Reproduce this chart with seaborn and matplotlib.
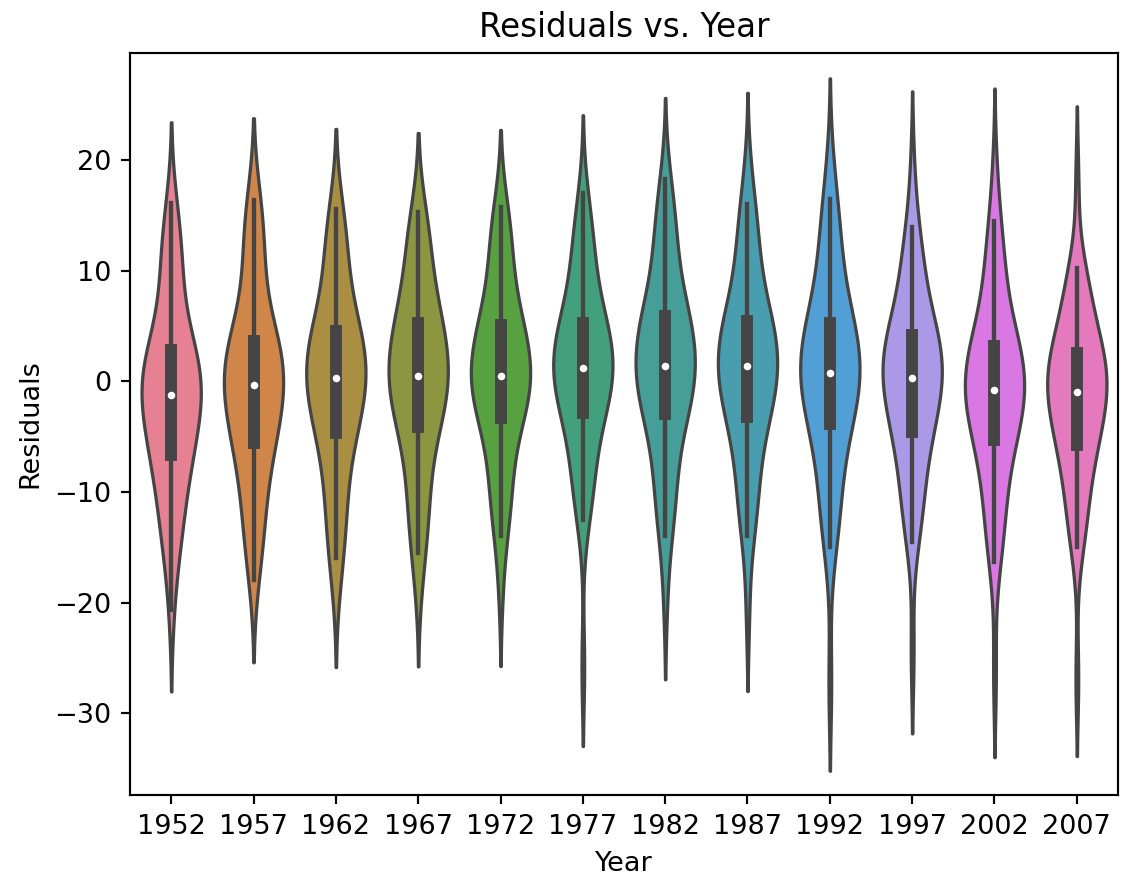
import matplotlib
matplotlib.use("Agg")
import matplotlib.pyplot as plt
import seaborn as sns
import pandas as pd

years = ["1952", "1957", "1962", "1967", "1972", "1977",
         "1982", "1987", "1992", "1997", "2002", "2007"]

res_1952 = [-20.7, -16.5,
            -15.2, -14.0, -12.9, -11.9, -10.9, -10.0, -9.1, -8.3, -7.5, -6.75, -6.6,
            -6.1, -5.5, -4.9, -4.4, -3.9, -3.4, -2.9, -2.4, -2.0, -1.6, -1.3, -1.1,
            -0.8, -0.4, 0.0, 0.4, 0.8, 1.1, 1.5, 1.9, 2.2, 2.5, 2.7, 3.1,
            4.0, 5.3, 6.5, 7.7, 8.8, 9.9, 11.0, 12.1, 13.3, 14.5, 16.1]
res_1957 = [-18.0, -16.0,
            -14.8, -13.6, -12.5, -11.4, -10.3, -9.3, -8.3, -7.4, -6.5, -5.65, -5.5,
            -5.0, -4.5, -4.0, -3.5, -3.0, -2.5, -2.0, -1.5, -1.1, -0.7, -0.4, -0.2,
            0.2, 0.6, 1.0, 1.4, 1.8, 2.2, 2.6, 2.9, 3.2, 3.4, 3.6, 4.0,
            4.9, 6.2, 7.5, 8.7, 9.9, 11.1, 12.3, 13.5, 14.8, 16.0, 16.4]
res_1962 = [-18.6, -16.0,
            -14.8, -13.6, -12.4, -11.2, -10.1, -9.0, -7.9, -6.8, -5.8, -4.75, -4.6,
            -4.1, -3.6, -3.1, -2.6, -2.1, -1.6, -1.1, -0.7, -0.3, 0.0, 0.2, 0.4,
            0.8, 1.2, 1.6, 2.0, 2.4, 2.8, 3.2, 3.6, 3.9, 4.2, 4.5, 4.9,
            5.6, 6.6, 7.6, 8.6, 9.6, 10.6, 11.7, 12.8, 13.9, 15.0, 15.6]
res_1967 = [-18.6, -15.5,
            -14.3, -13.1, -11.9, -10.8, -9.7, -8.6, -7.5, -6.4, -5.3, -4.25, -4.1,
            -3.6, -3.1, -2.6, -2.1, -1.6, -1.1, -0.7, -0.3, 0.0, 0.2, 0.35, 0.55,
            0.9, 1.4, 1.9, 2.4, 2.9, 3.4, 3.9, 4.3, 4.7, 5.0, 5.2, 5.6,
            6.2, 7.1, 8.0, 8.9, 9.8, 10.8, 11.8, 12.8, 13.8, 14.8, 15.3]
res_1972 = [-18.8, -14.0,
            -12.9, -11.8, -10.8, -9.8, -8.8, -7.8, -6.8, -5.8, -4.7, -3.45, -3.3,
            -2.9, -2.5, -2.1, -1.7, -1.3, -0.9, -0.5, -0.2, 0.1, 0.25, 0.35, 0.55,
            0.9, 1.4, 1.9, 2.4, 2.9, 3.3, 3.7, 4.1, 4.5, 4.8, 5.0, 5.4,
            6.1, 7.1, 8.1, 9.1, 10.1, 11.1, 12.1, 13.1, 14.1, 15.2, 15.8]
res_1977 = [-25.9, -12.5,
            -11.5, -10.5, -9.5, -8.5, -7.6, -6.7, -5.7, -4.8, -3.9, -2.95, -2.8,
            -2.3, -1.9, -1.5, -1.1, -0.7, -0.3, 0.1, 0.5, 0.8, 1.0, 1.1, 1.3,
            1.6, 2.0, 2.4, 2.8, 3.2, 3.6, 4.0, 4.4, 4.8, 5.0, 5.2, 5.6,
            6.3, 7.3, 8.3, 9.2, 10.1, 11.1, 12.1, 13.0, 14.0, 15.0, 17.0]
res_1982 = [-19.6, -14.0,
            -12.9, -11.8, -10.7, -9.6, -8.5, -7.4, -6.3, -5.2, -4.1, -3.05, -2.9,
            -2.4, -2.0, -1.6, -1.2, -0.8, -0.4, 0.0, 0.4, 0.8, 1.1, 1.3, 1.5,
            1.9, 2.4, 2.9, 3.4, 3.9, 4.3, 4.7, 5.1, 5.4, 5.6, 5.8, 6.2,
            7.0, 8.1, 9.1, 10.1, 11.2, 12.3, 13.3, 14.4, 15.5, 16.5, 18.3]
res_1987 = [-20.7, -14.0,
            -12.9, -11.8, -10.7, -9.6, -8.6, -7.5, -6.4, -5.4, -4.3, -3.35, -3.2,
            -2.7, -2.2, -1.8, -1.4, -1.0, -0.6, -0.2, 0.3, 0.7, 1.0, 1.3, 1.5,
            1.9, 2.3, 2.7, 3.1, 3.5, 3.9, 4.3, 4.7, 5.0, 5.2, 5.4, 5.8,
            6.6, 7.7, 8.7, 9.7, 10.8, 11.8, 12.9, 13.9, 15.0, 16.0, 18.8]
res_1992 = [-27.3, -15.0,
            -13.9, -12.7, -11.6, -10.4, -9.3, -8.2, -7.1, -6.0, -4.9, -3.95, -3.8,
            -3.3, -2.8, -2.3, -1.8, -1.3, -0.9, -0.5, -0.1, 0.3, 0.5, 0.7, 0.9,
            1.3, 1.7, 2.1, 2.6, 3.1, 3.5, 3.9, 4.3, 4.7, 5.0, 5.2, 5.6,
            6.4, 7.5, 8.6, 9.7, 10.8, 11.9, 13.0, 14.2, 15.3, 16.5, 19.5]
res_1997 = [-24.6, -14.5,
            -13.4, -12.3, -11.3, -10.3, -9.3, -8.4, -7.4, -6.5, -5.5, -4.65, -4.5,
            -4.0, -3.5, -3.0, -2.5, -2.0, -1.5, -1.0, -0.6, -0.2, 0.1, 0.25, 0.45,
            0.8, 1.2, 1.6, 2.0, 2.4, 2.8, 3.1, 3.4, 3.7, 3.9, 4.1, 4.5,
            5.2, 6.1, 7.0, 7.9, 8.8, 9.8, 10.8, 11.9, 13.0, 14.0, 19.0]
res_2002 = [-26.4, -16.3,
            -15.1, -13.9, -12.8, -11.7, -10.6, -9.5, -8.5, -7.5, -6.4, -5.45, -5.3,
            -4.8, -4.3, -3.8, -3.3, -2.8, -2.4, -2.0, -1.6, -1.3, -1.0, -0.9, -0.7,
            -0.3, 0.1, 0.5, 0.9, 1.3, 1.7, 2.1, 2.5, 2.8, 3.0, 3.1, 3.5,
            4.3, 5.3, 6.3, 7.4, 8.5, 9.6, 10.8, 12.0, 13.2, 14.5, 18.9]
res_2007 = [-27.0, -15.0,
            -14.0, -13.0, -12.0, -11.0, -10.0, -9.0, -8.1, -7.2, -6.5, -5.85, -5.7,
            -5.2, -4.7, -4.2, -3.7, -3.2, -2.7, -2.3, -1.9, -1.5, -1.2, -1.1, -0.9,
            -0.5, -0.1, 0.3, 0.7, 1.1, 1.4, 1.7, 2.0, 2.3, 2.4, 2.5, 2.9,
            3.5, 4.3, 5.1, 5.9, 6.7, 7.5, 8.3, 9.0, 9.7, 10.3, 18.0]

residuals = [res_1952, res_1957, res_1962, res_1967, res_1972, res_1977,
             res_1982, res_1987, res_1992, res_1997, res_2002, res_2007]

rows = []
for y, vals in zip(years, residuals):
    for v in vals:
        rows.append({"Year": y, "Residuals": v})
df = pd.DataFrame(rows)

DPI = 195
fig = plt.figure(figsize=(1122 / DPI, 878 / DPI), dpi=DPI)
ax = fig.add_axes([130 / 1122, 1 - 795 / 878, (1118 - 130) / 1122, (795 - 53) / 878])

sns.violinplot(data=df, x="Year", y="Residuals", hue="Year", order=years, hue_order=years,
               palette="husl", legend=False, bw_adjust=0.95, width=0.72,
               linewidth=1.2, linecolor="#454545",
               inner="box", inner_kws=dict(marker="o", box_width=4.4, whis_width=1.6), ax=ax)

for ln in ax.lines:
    if ln.get_marker() == "o":
        ln.set_markersize(2.8)
        ln.set_markeredgewidth(0)
        ln.set_markerfacecolor("white")

ax.set_title("Residuals vs. Year", fontsize=12)
ax.set_xlabel("Year")
ax.set_ylabel("Residuals")
ax.set_yticks([-30, -20, -10, 0, 10, 20])
ax.set_ylim(-37.4, 29.7)

fig.savefig("out.png", dpi=DPI)
